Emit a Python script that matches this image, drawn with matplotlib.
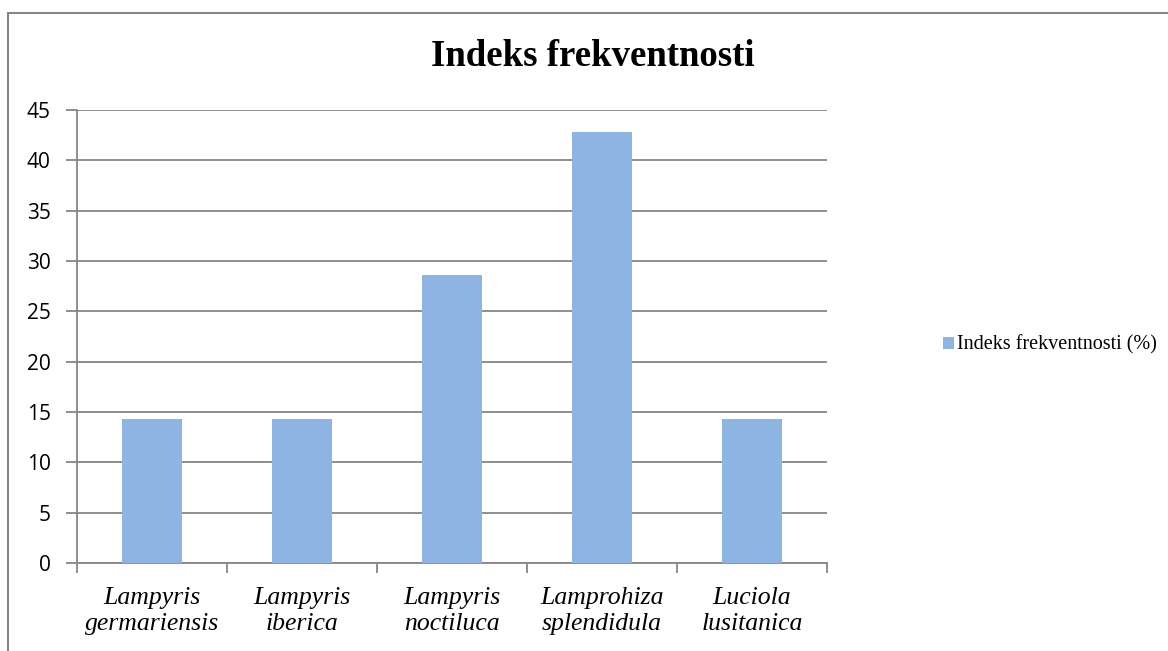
import matplotlib
matplotlib.use("Agg")
import matplotlib.pyplot as plt
from matplotlib.patches import Rectangle

species = ["Lampyris\ngermariensis", "Lampyris\niberica", "Lampyris\nnoctiluca",
           "Lamprohiza\nsplendidula", "Luciola\nlusitanica"]
values = [14.29, 14.29, 28.57, 42.86, 14.29]
yticks = [0, 5, 10, 15, 20, 25, 30, 35, 40, 45]
BAR = "#8EB4E3"; GRID = "#868686"

fig = plt.figure(figsize=(11.68, 6.51), dpi=100, facecolor="white")
W, H = 1168, 651
ax = fig.add_axes([77/W, 1-563/H, (827-77)/W, (563-110)/H])

x = range(len(values))
ax.bar(x, values, width=0.4, color=BAR, zorder=3, label="Indeks frekventnosti (%)")
ax.set_xlim(-0.5, len(values)-0.5)
ax.set_ylim(0, 45)
ax.set_yticks(yticks)
ax.yaxis.grid(True, color=GRID, lw=1.3, zorder=0)
for s in ("top", "right"):
    ax.spines[s].set_visible(False)
ax.spines["left"].set_color(GRID); ax.spines["left"].set_lw(1.3)
ax.spines["bottom"].set_color(GRID); ax.spines["bottom"].set_lw(1.3)
ax.tick_params(axis="y", length=8, color=GRID, width=1.3, pad=11,
               labelsize=15, labelfontfamily="Open Sans")
# category boundary ticks
ax.set_xticks([i+0.5 for i in range(-1, len(values))], minor=False)
ax.set_xticklabels([])
ax.tick_params(axis="x", which="major", length=7, color=GRID, width=1.3)
ax.set_xticks(list(x), minor=True)
ax.set_xticklabels(species, minor=True, fontsize=18.5, fontfamily="Liberation Serif",
                   fontstyle="italic", linespacing=1.25)
ax.tick_params(axis="x", which="minor", length=0, pad=17)

fig.text(593/W, 1-57/H, "Indeks frekventnosti", ha="center", va="center",
         fontsize=26.5, fontweight="bold", fontfamily="Liberation Serif")

leg = ax.legend(loc="center left", bbox_to_anchor=(943/W, 1-345/H), bbox_transform=fig.transFigure,
                frameon=False, prop={"family": "Liberation Serif", "size": 14.5},
                handlelength=0.55, handleheight=0.55, handletextpad=0.15,
                borderpad=0, borderaxespad=0)

# outer frame of the chart area
fig.add_artist(Rectangle((8/W, -0.1), 1.2, 1-13/H+0.1, transform=fig.transFigure,
                         fill=False, edgecolor=GRID, lw=1.5))

fig.savefig("out.png", dpi=100, facecolor="white")
